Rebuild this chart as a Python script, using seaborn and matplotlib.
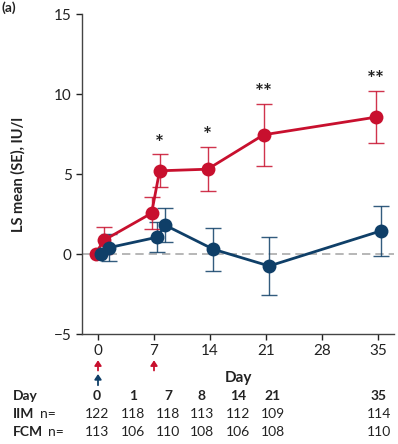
import numpy as np
import pandas as pd
import matplotlib
matplotlib.use("Agg")
import matplotlib.pyplot as plt
import matplotlib.transforms as mtransforms
import seaborn as sns

# chart values
days = [0, 1, 7, 8, 14, 21, 35]
iim_mean = [0.0, 0.85, 2.55, 5.2, 5.3, 7.45, 8.55]
iim_se = [0.0, 0.85, 1.0, 1.03, 1.38, 1.94, 1.62]
fcm_mean = [0.0, 0.4, 1.05, 1.8, 0.3, -0.75, 1.45]
fcm_se = [0.0, 0.85, 0.95, 1.06, 1.35, 1.84, 1.55]
stars = ["", "", "", "*", "*", "**", "**"]

iim_dose_days = [0, 7]
fcm_dose_days = [0]

table_days = ["0", "1", "7", "8", "14", "21", "35"]
iim_n = [122, 118, 118, 113, 112, 109, 114]
fcm_n = [113, 106, 110, 108, 106, 108, 110]

RED = "#C8102E"
BLUE = "#0F3F68"
INK = "#222222"

sns.set_style("ticks")
plt.rcParams["font.family"] = ["Lato", "DejaVu Sans"]

df = pd.DataFrame({
    "day": days * 2,
    "mean": iim_mean + fcm_mean,
    "se": iim_se + fcm_se,
    "group": ["IIM"] * len(days) + ["FCM"] * len(days),
})
offsets = {"IIM": -0.3, "FCM": 0.4}
df["x"] = df["day"] + df["group"].map(offsets)

fig = plt.figure(figsize=(3.98, 4.44), dpi=100)
ax = fig.add_axes([82 / 398, 1 - 334 / 444, 312 / 398, 320 / 444])

ax.axhline(0, color="#aaaaaa", lw=1.2, ls=(0, (5, 3)), zorder=1)

palette = {"IIM": RED, "FCM": BLUE}
for grp in ["FCM", "IIM"]:
    sub = df[df["group"] == grp]
    eb = sub[sub["day"] > 0]
    ax.errorbar(eb["x"], eb["mean"], yerr=eb["se"], fmt="none",
                ecolor=palette[grp], elinewidth=1.0, capsize=5.5,
                capthick=1.0, alpha=0.85, zorder=2)
sns.lineplot(data=df, x="x", y="mean", hue="group", palette=palette,
             estimator=None, sort=False, marker="o", markersize=10,
             markeredgewidth=0, linewidth=2, legend=False, ax=ax, zorder=3)

sub = df[df["group"] == "IIM"]
for xv, m, s, st in zip(sub["x"], sub["mean"], sub["se"], stars):
    if st:
        ax.text(xv, m + s + 0.05, st, ha="center", va="bottom",
                fontsize=15, fontweight="bold", color=INK)

ax.set_xlim(-2, 37)
ax.set_ylim(-5, 15)
ax.set_xticks([0, 7, 14, 21, 28, 35])
ax.set_yticks([-5, 0, 5, 10, 15])
ax.set_yticklabels(["\u22125", "0", "5", "10", "15"])
ax.tick_params(labelsize=11, colors=INK, length=4, width=1)
for sp in ["left", "bottom"]:
    ax.spines[sp].set_color("#444444")
    ax.spines[sp].set_linewidth(1)
sns.despine(ax=ax)

ax.set_xlabel("Day", fontsize=11, fontweight="bold", color=INK)
ax.xaxis.set_label_coords(0.5, -0.115)
ax.set_ylabel("LS mean (SE), IU/l", fontsize=10.5, fontweight="bold", color=INK)
ax.yaxis.set_label_coords(-0.18, 0.5)

# dose arrows under the x axis
trans = mtransforms.blended_transform_factory(ax.transData, ax.transAxes)
astyle = "-|>,head_length=0.3,head_width=0.2"
for d in iim_dose_days:
    ax.annotate("", xy=(d, -0.082), xytext=(d, -0.114), xycoords=trans,
                textcoords=trans, annotation_clip=False,
                arrowprops=dict(arrowstyle=astyle, color=RED, lw=1.3,
                                mutation_scale=10, shrinkA=0, shrinkB=0))
for d in fcm_dose_days:
    ax.annotate("", xy=(d, -0.125), xytext=(d, -0.16), xycoords=trans,
                textcoords=trans, annotation_clip=False,
                arrowprops=dict(arrowstyle=astyle, color=BLUE, lw=1.3,
                                mutation_scale=10, shrinkA=0, shrinkB=0))

# table of n per visit
col_x = [97, 133, 168, 202, 238, 273, 379]
row_y = [396, 414, 432]
W, H = 398, 444
fs = 10
fig.text(13 / W, 1 - row_y[0] / H, "Day", fontsize=fs, fontweight="bold",
         color=INK, va="center")
fig.text(13 / W, 1 - row_y[1] / H, "IIM", fontsize=fs, fontweight="bold",
         color=INK, va="center")
fig.text(40 / W, 1 - row_y[1] / H, "n=", fontsize=fs, color=INK, va="center")
fig.text(13 / W, 1 - row_y[2] / H, "FCM", fontsize=fs, fontweight="bold",
         color=INK, va="center")
fig.text(48 / W, 1 - row_y[2] / H, "n=", fontsize=fs, color=INK, va="center")
for cx, d, a, b in zip(col_x, table_days, iim_n, fcm_n):
    fig.text(cx / W, 1 - row_y[0] / H, d, fontsize=fs, fontweight="bold",
             color=INK, ha="center", va="center")
    fig.text(cx / W, 1 - row_y[1] / H, str(a), fontsize=fs, color=INK,
             ha="center", va="center")
    fig.text(cx / W, 1 - row_y[2] / H, str(b), fontsize=fs, color=INK,
             ha="center", va="center")

# panel label in the top-left corner
fig.text(2 / W, 1 - 1 / H, "(a)", fontsize=10, fontweight="bold", color=INK,
         va="top", ha="left")

fig.savefig("out.png", dpi=100)
